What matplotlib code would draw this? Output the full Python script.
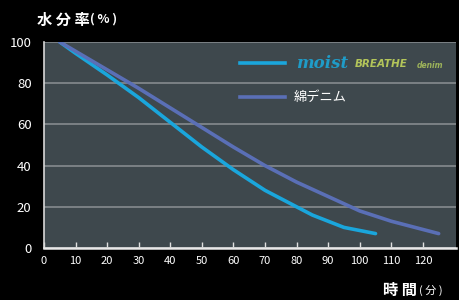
import matplotlib
matplotlib.use('Agg')
import matplotlib.pyplot as plt

plt.rcParams['font.family'] = ['Noto Sans CJK JP', 'DejaVu Sans']

# data
moist_x = [5, 10, 20, 30, 40, 50, 60, 70, 80, 85, 90, 95, 100, 105]
moist_y = [100, 94.5, 84, 73, 61, 49, 38, 28, 20, 16, 13, 10, 8.5, 7]
cotton_x = [5, 10, 20, 30, 40, 50, 60, 70, 80, 90, 100, 110, 120, 125]
cotton_y = [100, 95.5, 86.5, 77.5, 68, 58.5, 49, 40, 32, 25, 18, 13, 9, 7]
xticks = list(range(0, 130, 10))
yticks = [0, 20, 40, 60, 80, 100]

moist_color = '#1aa6dc'
cotton_color = '#5a6fb6'

fig = plt.figure(figsize=(4.59, 3.0), dpi=100, facecolor='black')
ax = fig.add_axes([0.0959, 0.1733, 0.8976, 0.6867])
ax.set_facecolor('#3e484d')

ax.plot(moist_x, moist_y, color=moist_color, lw=2.6, solid_capstyle='round', zorder=2)
ax.plot(cotton_x, cotton_y, color=cotton_color, lw=2.6, solid_capstyle='round', zorder=3)

ax.set_xlim(0, 130.5)
ax.set_ylim(0, 100)
ax.set_xticks(xticks)
ax.set_yticks(yticks)
ax.yaxis.grid(True, color='#858b8e', lw=1.2)
ax.set_axisbelow(True)

for s in ['top', 'right']:
    ax.spines[s].set_visible(False)
ax.spines['left'].set_color('#d8d8d8')
ax.spines['bottom'].set_color('#e8e8e8')
ax.spines['left'].set_linewidth(1.2)
ax.spines['bottom'].set_linewidth(1.8)

ax.tick_params(axis='x', direction='in', length=4, width=1, color='#e0e0e0',
               labelcolor='white', labelsize=8, pad=6)
ax.tick_params(axis='y', length=0, labelcolor='white', labelsize=9.5, pad=9)

# legend drawn by hand
ax.plot([0.476, 0.585], [0.898, 0.898], transform=ax.transAxes, color=moist_color, lw=2.6)
ax.plot([0.476, 0.585], [0.733, 0.733], transform=ax.transAxes, color=cotton_color, lw=2.6)
ax.text(0.612, 0.898, 'moist', transform=ax.transAxes, color='#1f9cc8',
        fontsize=12, style='italic', weight='bold', family='DejaVu Serif', va='center')
ax.text(0.755, 0.893, 'BREATHE', transform=ax.transAxes, color='#b3c55a',
        fontsize=7.5, style='italic', weight='bold', family='DejaVu Sans', va='center')
ax.text(0.905, 0.886, 'denim', transform=ax.transAxes, color='#9cb25a',
        fontsize=5.5, style='italic', weight='bold', family='DejaVu Sans', va='center')
ax.text(0.607, 0.733, '綿デニム', transform=ax.transAxes, color='white',
        fontsize=9.5, va='center')

fig.text(0.08, 0.935, '水 分 率', color='white', fontsize=11, weight='bold', va='center')
fig.text(0.195, 0.935, '( % )', color='white', fontsize=9, weight='bold', va='center')
fig.text(0.835, 0.032, '時 間', color='white', fontsize=11, weight='bold', va='center')
fig.text(0.912, 0.032, '( 分 )', color='white', fontsize=8, va='center')

fig.savefig('out.png', dpi=100, facecolor='black')
